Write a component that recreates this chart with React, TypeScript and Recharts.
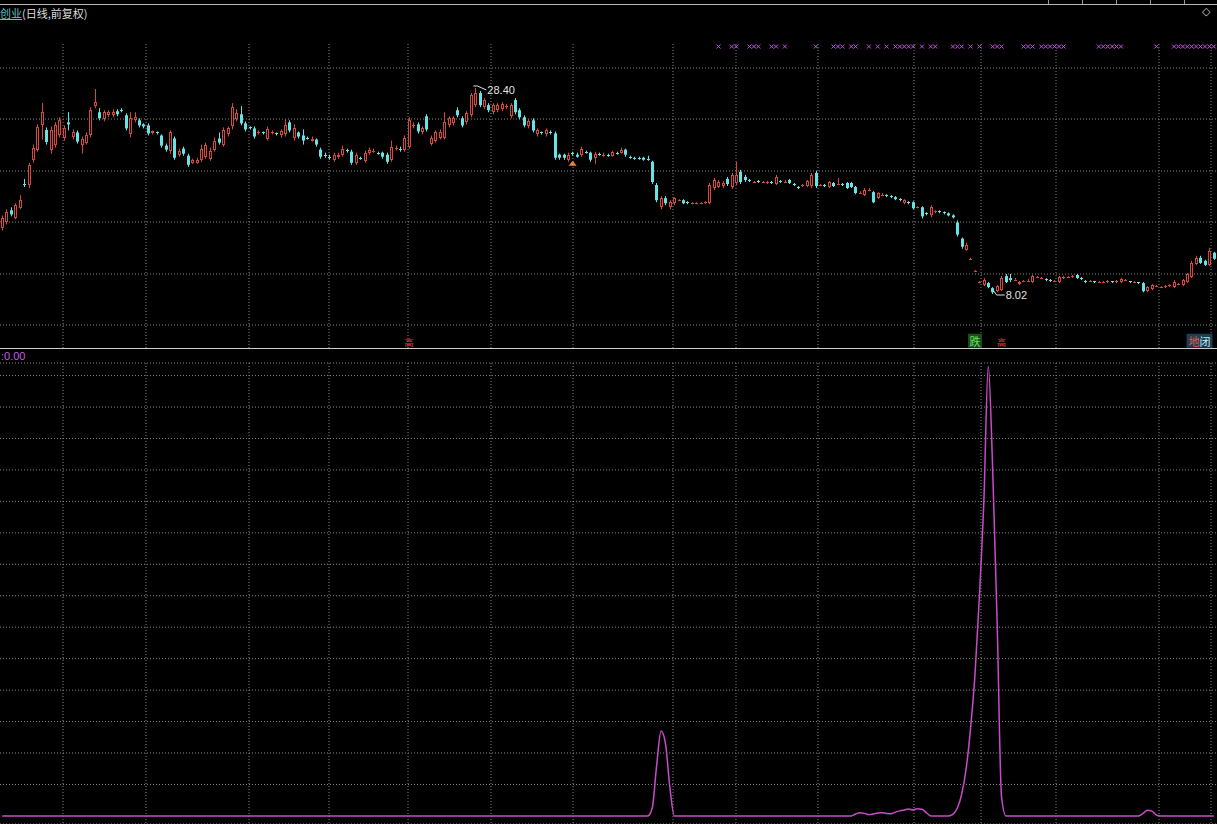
import React from "react";
import {
  Bar,
  CartesianGrid,
  ComposedChart,
  Line,
  Scatter,
  XAxis,
  YAxis,
} from "recharts";

// [open, close, high, low]
type Candle = [number, number, number, number];

const candles: Candle[] = [
  [14.55, 15.54, 15.8, 14.3], [15.14, 16.13, 16.4, 14.9], [16.3, 15.9, 16.6, 15.7], [15.54, 16.83, 17.0, 15.4],
  [16.53, 17.32, 17.8, 16.4], [18.9, 18.8, 19.4, 18.6], [18.8, 20.78, 21.0, 18.5], [21.28, 22.46, 22.8, 21.0],
  [22.27, 24.54, 24.8, 22.1], [24.74, 26.0, 26.9, 23.3], [24.25, 23.06, 24.5, 22.8], [22.3, 24.2, 24.6, 21.9],
  [22.8, 24.7, 25.0, 22.5], [23.75, 25.2, 25.5, 23.5], [23.5, 24.4, 24.7, 23.2], [25.0, 24.8, 26.0, 24.2],
  [23.6, 24.0, 24.3, 23.3], [24.0, 23.1, 24.2, 22.9], [22.8, 23.4, 23.6, 21.9], [23.0, 23.7, 24.0, 22.8],
  [23.7, 26.2, 26.5, 23.5], [26.6, 27.0, 28.3, 26.4], [26.0, 25.4, 26.4, 25.2], [25.3, 26.0, 26.2, 25.1],
  [25.7, 26.0, 26.2, 25.5], [25.7, 26.0, 26.3, 25.5], [26.1, 25.8, 26.3, 25.6], [26.2, 26.1, 26.4, 26.0],
  [25.7, 24.4, 25.9, 24.2], [23.8, 25.4, 26.0, 23.5], [25.2, 25.5, 26.0, 25.0], [25.2, 24.7, 25.4, 24.5],
  [24.8, 24.6, 24.9, 24.4], [24.7, 23.9, 24.9, 23.7], [23.9, 24.1, 24.2, 23.8], [24.0, 23.9, 24.1, 23.8],
  [23.7, 22.7, 23.8, 22.5], [22.7, 22.3, 22.9, 22.1], [22.2, 24.0, 24.2, 21.9], [23.4, 21.5, 23.6, 21.3],
  [21.8, 22.2, 22.4, 21.6], [22.4, 21.9, 22.6, 21.7], [21.7, 20.8, 21.9, 20.6], [21.0, 21.3, 21.4, 20.9],
  [21.0, 21.3, 21.5, 20.9], [21.3, 22.4, 22.8, 21.1], [21.6, 22.8, 23.0, 21.4], [21.4, 22.2, 22.5, 21.2],
  [22.3, 23.2, 23.5, 22.1], [23.4, 23.0, 24.0, 22.8], [22.8, 24.2, 24.5, 22.6], [23.8, 24.4, 24.6, 23.6],
  [24.6, 26.5, 26.9, 24.3], [25.3, 25.9, 26.3, 25.1], [25.8, 24.9, 26.6, 24.7], [24.9, 24.3, 25.1, 24.1],
  [24.5, 24.4, 24.6, 24.3], [24.4, 23.6, 24.6, 23.4], [23.9, 24.0, 24.2, 23.8], [24.0, 23.9, 24.1, 23.8],
  [23.4, 24.3, 24.6, 23.2], [24.0, 24.0, 24.2, 23.8], [23.9, 23.8, 24.0, 23.7], [23.7, 24.1, 24.3, 23.5],
  [23.8, 24.7, 25.3, 23.6], [25.0, 24.2, 25.2, 24.0], [23.5, 24.4, 24.8, 23.2], [24.0, 23.6, 24.1, 23.4],
  [23.7, 23.2, 24.3, 22.8], [23.5, 23.4, 23.6, 23.3], [23.2, 23.4, 23.6, 23.1], [23.3, 22.8, 23.4, 22.6],
  [22.3, 21.6, 22.5, 21.4], [21.8, 21.7, 22.0, 21.5], [21.6, 21.5, 21.8, 21.3], [21.3, 21.8, 22.0, 21.1],
  [21.6, 21.8, 22.0, 21.4], [21.8, 22.4, 22.7, 21.6], [22.3, 22.2, 22.4, 22.0], [22.1, 21.0, 22.3, 20.8],
  [21.0, 21.8, 22.0, 20.8], [21.5, 21.4, 21.6, 21.3], [21.2, 22.0, 22.2, 21.0], [22.0, 22.3, 22.5, 21.8],
  [22.2, 22.2, 22.4, 22.0], [22.0, 21.9, 22.1, 21.8], [22.0, 21.6, 22.1, 21.4], [21.8, 21.1, 22.0, 20.9],
  [21.3, 22.6, 23.2, 21.1], [22.4, 22.5, 22.7, 22.2], [22.4, 22.3, 22.6, 22.1], [22.3, 23.5, 23.7, 22.1],
  [22.6, 25.2, 25.5, 22.4], [24.6, 24.7, 25.0, 24.4], [24.8, 24.1, 25.0, 23.9], [24.0, 24.4, 24.6, 23.8],
  [25.6, 24.3, 25.8, 24.1], [22.9, 23.5, 23.7, 22.7], [23.2, 24.0, 24.2, 23.0], [23.5, 24.0, 24.3, 23.3],
  [23.5, 25.0, 26.0, 23.3], [24.7, 25.4, 25.6, 24.5], [24.9, 25.4, 25.6, 24.7], [26.2, 25.7, 26.5, 25.5],
  [25.4, 24.7, 25.6, 24.5], [25.0, 25.9, 26.1, 24.8], [25.7, 27.7, 27.9, 25.5], [26.7, 27.9, 28.4, 26.5],
  [27.9, 26.7, 28.1, 26.5], [26.5, 27.2, 27.4, 26.3], [26.7, 26.2, 26.9, 26.0], [26.0, 26.7, 26.9, 25.8],
  [26.2, 26.7, 26.9, 26.0], [26.3, 26.8, 27.0, 26.1], [26.5, 26.6, 26.8, 26.3], [25.6, 26.7, 26.9, 25.4],
  [27.2, 26.0, 27.4, 25.8], [26.2, 25.5, 26.4, 25.3], [25.5, 24.7, 25.7, 24.5], [24.6, 25.1, 25.3, 24.4],
  [25.2, 24.2, 25.4, 24.0], [23.8, 24.2, 24.4, 23.6], [24.0, 23.9, 24.1, 23.8], [23.8, 24.2, 24.4, 23.6],
  [24.0, 23.9, 24.2, 23.8], [23.9, 21.5, 24.1, 21.3], [21.8, 21.5, 21.9, 21.3], [21.8, 21.5, 21.9, 21.3],
  [21.3, 21.8, 22.0, 21.1], [22.0, 21.9, 22.1, 21.7], [21.8, 21.6, 22.0, 21.5], [21.8, 22.4, 22.6, 21.6],
  [22.1, 22.0, 22.2, 21.9], [22.0, 21.3, 22.1, 21.1], [21.5, 21.9, 22.1, 20.9], [21.9, 21.8, 22.0, 21.7],
  [21.8, 21.8, 22.0, 21.6], [21.8, 21.7, 21.9, 21.6], [21.7, 22.1, 22.2, 21.6], [22.0, 21.9, 22.1, 21.8],
  [22.0, 22.3, 22.5, 21.9], [22.3, 21.8, 22.4, 21.6], [21.6, 21.5, 21.7, 21.4], [21.5, 21.4, 21.6, 21.3],
  [21.5, 21.4, 21.6, 21.3], [21.5, 21.3, 21.6, 21.2], [21.4, 21.3, 21.7, 21.2], [21.1, 19.1, 21.2, 18.9],
  [18.8, 17.3, 19.0, 17.1], [16.6, 17.5, 17.7, 16.4], [17.5, 17.0, 17.7, 16.8], [16.6, 17.1, 17.3, 16.4],
  [17.0, 17.5, 17.6, 16.8], [17.3, 17.3, 17.4, 17.2], [17.3, 17.0, 17.4, 16.9], [17.1, 17.0, 17.2, 16.9],
  [17.0, 17.0, 17.1, 16.9], [17.0, 17.0, 17.1, 16.9], [17.0, 17.0, 17.1, 16.9], [17.0, 17.1, 17.2, 16.9],
  [17.0, 18.8, 19.0, 16.9], [18.5, 19.3, 19.5, 18.3], [18.6, 19.1, 19.3, 18.5], [18.7, 19.0, 19.2, 18.5],
  [19.4, 18.9, 19.6, 18.7], [18.6, 19.8, 20.0, 18.4], [19.0, 19.8, 21.1, 18.8], [20.1, 19.1, 20.3, 18.9],
  [19.6, 19.3, 19.8, 19.1], [19.3, 19.2, 19.4, 19.1], [19.1, 19.1, 19.2, 19.0], [19.2, 19.1, 19.3, 19.0],
  [19.1, 19.1, 19.2, 19.0], [19.0, 19.1, 19.2, 18.9], [19.1, 19.0, 19.2, 18.9], [18.9, 19.6, 19.8, 18.8],
  [19.2, 19.1, 19.3, 19.0], [19.1, 19.1, 19.3, 19.0], [19.3, 19.0, 19.4, 18.9], [18.9, 18.8, 19.0, 18.7],
  [18.6, 18.5, 18.7, 18.4], [18.7, 18.8, 18.9, 18.6], [18.7, 19.2, 19.3, 18.6], [18.7, 19.8, 20.0, 18.5],
  [20.0, 18.7, 20.2, 18.5], [18.8, 18.8, 18.9, 18.7], [18.8, 18.7, 18.9, 18.6], [18.6, 19.1, 19.2, 18.5],
  [19.0, 18.7, 19.1, 18.6], [18.9, 18.9, 19.5, 18.8], [18.9, 18.8, 19.0, 18.7], [19.0, 18.5, 19.1, 18.4],
  [19.0, 18.6, 19.1, 18.5], [18.6, 18.0, 18.7, 17.9], [18.0, 18.0, 18.2, 17.9], [17.8, 18.3, 18.5, 17.7],
  [18.3, 18.3, 18.5, 18.2], [18.1, 17.1, 18.2, 17.0], [17.5, 18.0, 18.1, 17.4], [17.8, 17.8, 18.0, 17.7],
  [17.8, 17.7, 17.9, 17.6], [17.7, 17.6, 17.8, 17.5], [17.6, 17.4, 17.7, 17.3], [17.4, 17.3, 17.5, 17.2],
  [17.0, 17.3, 17.4, 16.9], [17.1, 17.0, 17.2, 16.9], [17.1, 16.5, 17.2, 16.4], [16.6, 16.6, 16.7, 16.5],
  [16.6, 15.7, 16.7, 15.5], [16.0, 15.9, 16.1, 15.8], [15.8, 16.6, 16.8, 15.6], [16.1, 16.2, 16.3, 16.0],
  [16.2, 16.1, 16.3, 16.0], [16.1, 16.0, 16.2, 15.9], [16.0, 15.8, 16.1, 15.7], [15.8, 15.6, 15.9, 15.5],
  [15.1, 13.9, 15.3, 13.7], [13.5, 12.7, 13.6, 12.5], [12.4, 12.9, 13.1, 12.3], [11.5, 11.5, 11.6, 11.4],
  [10.3, 10.3, 10.4, 10.2], [9.2, 9.2, 9.3, 9.1], [8.9, 9.4, 9.6, 8.8], [9.1, 8.7, 9.2, 8.6],
  [8.6, 8.2, 8.7, 8.02], [8.3, 8.8, 8.9, 8.2], [8.4, 9.6, 9.8, 8.3], [9.8, 9.2, 10.0, 9.1],
  [9.6, 9.4, 10.0, 9.2], [9.4, 9.4, 9.6, 9.3], [9.0, 9.2, 9.3, 8.9], [9.3, 9.3, 9.4, 9.2],
  [9.3, 9.3, 9.5, 9.2], [9.2, 9.8, 9.9, 9.1], [9.7, 9.7, 9.8, 9.6], [9.6, 9.6, 9.7, 9.5],
  [9.5, 9.4, 9.6, 9.3], [9.4, 9.3, 9.5, 9.2], [9.3, 9.3, 9.4, 9.2], [9.2, 9.7, 9.8, 9.1],
  [9.6, 9.7, 9.8, 9.5], [9.7, 9.7, 9.8, 9.6], [9.7, 9.8, 9.9, 9.6], [9.9, 9.6, 10.0, 9.5],
  [9.6, 9.5, 9.7, 9.4], [9.3, 9.2, 9.4, 9.1], [9.3, 9.3, 9.4, 9.2], [9.3, 9.2, 9.3, 9.1],
  [9.2, 9.2, 9.3, 9.1], [9.2, 9.2, 9.3, 9.1], [9.2, 9.3, 9.4, 9.1], [9.3, 9.2, 9.3, 9.1],
  [9.2, 9.3, 9.4, 9.1], [9.2, 9.5, 9.6, 9.1], [9.4, 9.4, 9.5, 9.3], [9.3, 9.2, 9.3, 9.1],
  [9.2, 9.2, 9.3, 9.1], [9.2, 9.1, 9.2, 9.0], [9.1, 8.3, 9.2, 8.2], [8.3, 8.7, 8.8, 8.2],
  [8.5, 8.9, 9.0, 8.4], [8.8, 8.8, 8.9, 8.7], [8.7, 8.7, 8.8, 8.6], [8.7, 8.8, 8.9, 8.6],
  [8.8, 8.9, 9.0, 8.7], [8.7, 9.2, 9.4, 8.6], [9.0, 9.0, 9.1, 8.9], [8.9, 9.4, 9.5, 8.8],
  [9.2, 10.0, 10.1, 9.1], [9.7, 11.1, 11.3, 9.6], [11.0, 11.6, 11.8, 10.9], [11.6, 11.1, 11.8, 11.0],
  [11.3, 10.9, 11.4, 10.8], [10.9, 12.3, 12.6, 10.8], [12.1, 11.5, 12.2, 11.4],
];

// lower panel indicator, one value per candle
const signal: number[] = [
  0, 0, 0, 0, 0, 0, 0, 0, 0, 0, 0, 0, 0, 0, 0, 0, 0, 0, 0, 0, 0,
  0, 0, 0, 0, 0, 0, 0, 0, 0, 0, 0, 0, 0, 0, 0, 0, 0, 0, 0, 0, 0,
  0, 0, 0, 0, 0, 0, 0, 0, 0, 0, 0, 0, 0, 0, 0, 0, 0, 0, 0, 0, 0,
  0, 0, 0, 0, 0, 0, 0, 0, 0, 0, 0, 0, 0, 0, 0, 0, 0, 0, 0, 0, 0,
  0, 0, 0, 0, 0, 0, 0, 0, 0, 0, 0, 0, 0, 0, 0, 0, 0, 0, 0, 0, 0,
  0, 0, 0, 0, 0, 0, 0, 0, 0, 0, 0, 0, 0, 0, 0, 0, 0, 0, 0, 0, 0,
  0, 0, 0, 0, 0, 0, 0, 0, 0, 0, 0, 0, 0, 0, 0, 0, 0, 0, 0, 0, 0,
  2.5, 16, 27, 23, 9,
  0, 0, 0, 0, 0, 0, 0, 0, 0, 0, 0, 0, 0, 0, 0, 0, 0, 0, 0, 0, 0,
  0, 0, 0, 0, 0, 0, 0, 0, 0, 0, 0, 0, 0, 0, 0, 0, 0, 0, 0, 0,
  0.6, 1.0, 0.8, 0.4, 0.6, 0.9, 1.0, 0.8, 0.7, 1.2, 1.6, 1.9, 2.2, 1.9, 2.3, 2.1, 1.0,
  0, 0, 0, 0, 0,
  0.5, 2.5, 7, 15, 28, 45, 70, 100, 143, 110, 62, 6,
  0, 0, 0, 0, 0, 0, 0, 0, 0, 0, 0, 0, 0, 0, 0, 0,
  0, 0, 0, 0, 0, 0, 0, 0, 0, 0, 0, 0, 0, 0, 0,
  0.8, 1.8, 1.5, 0.3,
  0, 0, 0, 0, 0, 0, 0, 0, 0, 0, 0, 0, 0,
];

// candles carrying the small signal cross at the top of the price panel
const crossMarks: number[] = [
  162, 165, 166, 169, 170, 171, 174, 175, 177, 184, 188, 189, 190, 192, 193, 196, 198, 200,
  202, 203, 204, 205, 206, 208, 210, 211, 215, 216, 217, 219, 221, 224, 225, 226, 231, 232,
  233, 235, 236, 237, 238, 239, 240, 248, 249, 250, 251, 252, 253, 261, 265, 266, 267, 268,
  269, 270, 271, 272, 273, 274,
];

const eventTags: { i: number; text: string; kind: "up" | "down" | "note" }[] = [
  { i: 92, text: "高", kind: "up" },
  { i: 220, text: "跌", kind: "down" },
  { i: 226, text: "高", kind: "up" },
  { i: 271, text: "地闭", kind: "note" },
];

const buyPoints: number[] = [129];

// month separators (px) and price grid rows (px)
const gridX = [63, 146, 249, 329, 408, 491, 573, 673, 736, 818, 914, 981, 1056, 1159, 1211];
const gridYTop = [68, 119, 171, 222, 274, 325];
const signalTicks = [10, 20, 30, 40, 50, 60, 70, 80, 90, 100, 110, 120, 130, 140];

const WIDTH = 1217;
const N = candles.length;
const X_DOMAIN: [number, number] = [-0.5, N - 0.5];
const PRICE_DOMAIN: [number, number] = [2.68, 32.75];
const SIGNAL_DOMAIN: [number, number] = [-2.575, 144];
const MARK_LEVEL = 32.5;
const TAG_LEVEL = 3.3;

const RED = "#d6483e";
const CYAN = "#68e2e2";
const GRID = "#858585";
const MAGENTA = "#c84cc8";

const rows = candles.map(([o, c, h, l], i) => ({ i, o, c, h, l, range: [l, h] }));
const signalRows = signal.map((v, i) => ({ i, v }));
const markRows = crossMarks.map((i) => ({ i, y: MARK_LEVEL }));
const tagRows = eventTags.map((t) => ({ ...t, y: TAG_LEVEL }));
const buyRows = buyPoints.map((i) => ({ i, y: candles[i][3] }));

let hiIdx = 0;
let loIdx = 0;
candles.forEach((k, i) => {
  if (k[2] > candles[hiIdx][2]) hiIdx = i;
  if (k[3] < candles[loIdx][3]) loIdx = i;
});
const extremeRows = [
  { i: hiIdx, y: candles[hiIdx][2], kind: "max" },
  { i: loIdx, y: candles[loIdx][3], kind: "min" },
];

function CandleShape(props: any) {
  const { x, y, width, height, payload } = props;
  if (x == null || y == null || !payload) return null;
  const { o, c, h, l } = payload;
  const top = Math.min(y, y + height);
  const span = Math.abs(height);
  const range = h - l || 1;
  const py = (v: number) => top + ((h - v) / range) * span;
  const cx = Math.floor(x + width / 2);
  const wx = cx + 0.5;
  const up = c >= o;
  const color = up ? RED : CYAN;
  const yh = py(h);
  const yl = py(l);
  const bTop = py(Math.max(o, c));
  const bBot = py(Math.min(o, c));

  if (bBot - bTop < 1.5) {
    const yy = Math.round(bTop) + 0.5;
    return (
      <g>
        <line x1={wx} x2={wx} y1={yh} y2={yl} stroke={color} />
        <line x1={cx - 1} x2={cx + 2} y1={yy} y2={yy} stroke={color} />
      </g>
    );
  }
  if (up) {
    const t = Math.round(bTop) + 0.5;
    const b = Math.round(bBot) - 0.5;
    return (
      <g>
        <line x1={wx} x2={wx} y1={yh} y2={t} stroke={color} />
        <line x1={wx} x2={wx} y1={b} y2={yl} stroke={color} />
        <rect x={cx - 0.5} y={t} width={2} height={Math.max(b - t, 1)} fill="#000" stroke={color} />
      </g>
    );
  }
  return (
    <g>
      <line x1={wx} x2={wx} y1={yh} y2={yl} stroke={color} />
      <rect x={cx - 1} y={bTop} width={3} height={bBot - bTop} fill={color} />
    </g>
  );
}

function CrossShape(props: any) {
  const { cx, cy } = props;
  if (cx == null || cy == null) return null;
  return (
    <g stroke="#c452e6" strokeWidth={1}>
      <line x1={cx - 2} y1={cy - 2} x2={cx + 2} y2={cy + 2} />
      <line x1={cx - 2} y1={cy + 2} x2={cx + 2} y2={cy - 2} />
    </g>
  );
}

function TagShape(props: any) {
  const { cx, cy, payload } = props;
  if (cx == null || cy == null) return null;
  const font = { fontSize: 11, fontFamily: "'Noto Sans CJK SC', sans-serif" };
  if (payload.kind === "note") {
    return (
      <g>
        <rect x={cx - 14} y={cy - 8} width={26} height={14} fill="#1d3f52" />
        <text x={cx - 1} y={cy + 4} textAnchor="middle" {...font}>
          <tspan fill="#e85a4a">{payload.text.slice(0, 1)}</tspan>
          <tspan fill="#bfe8f0">{payload.text.slice(1)}</tspan>
        </text>
      </g>
    );
  }
  if (payload.kind === "down") {
    return (
      <g>
        <rect x={cx - 7} y={cy - 8} width={14} height={14} fill="#1f4a1f" />
        <text x={cx} y={cy + 4} textAnchor="middle" fill="#5ee05e" {...font}>
          {payload.text}
        </text>
      </g>
    );
  }
  return (
    <text x={cx} y={cy + 4} textAnchor="middle" fill="#e23a3a" fontSize={9} fontFamily="'Noto Sans CJK SC', sans-serif">
      {payload.text}
    </text>
  );
}

function BuyShape(props: any) {
  const { cx, cy } = props;
  if (cx == null || cy == null) return null;
  const t = cy + 5;
  return <path d={`M${cx} ${t} L${cx + 4} ${t + 5} L${cx - 4} ${t + 5} Z`} fill="#f08038" />;
}

function ExtremeShape(props: any) {
  const { cx, cy, payload } = props;
  if (cx == null || cy == null) return null;
  const label = payload.y.toFixed(2);
  const font = { fontSize: 11, fontFamily: "'Liberation Sans', Arial, sans-serif", fill: "#e2e2e2" };
  if (payload.kind === "max") {
    return (
      <g>
        <path d={`M${cx - 2} ${cy - 2} L${cx + 2} ${cy - 2} L${cx + 11} ${cy + 2}`} stroke="#e2e2e2" fill="none" />
        <text x={cx + 12} y={cy + 6} {...font}>{label}</text>
      </g>
    );
  }
  return (
    <g>
      <path d={`M${cx + 1} ${cy - 3} L${cx + 4} ${cy + 1} L${cx + 12} ${cy + 1}`} stroke="#e2e2e2" fill="none" />
      <text x={cx + 13} y={cy + 5} {...font}>{label}</text>
    </g>
  );
}

export default function App() {
  return (
    <div
      style={{
        position: "absolute",
        left: 0,
        top: 0,
        width: WIDTH,
        height: 824,
        background: "#000",
        overflow: "hidden",
      }}
    >
      <div style={{ position: "absolute", left: 0, top: 0 }}>
        <ComposedChart width={WIDTH} height={348} data={rows} margin={{ top: 44, right: 1, bottom: 0, left: 0 }}>
          <CartesianGrid
            stroke={GRID}
            strokeDasharray="1 2"
            horizontalPoints={gridYTop}
            verticalPoints={gridX}
          />
          <XAxis dataKey="i" type="number" domain={X_DOMAIN} hide />
          <YAxis domain={PRICE_DOMAIN} hide />
          <Bar dataKey="range" barSize={3} shape={<CandleShape />} isAnimationActive={false} />
          <Scatter data={markRows} dataKey="y" shape={<CrossShape />} isAnimationActive={false} />
          <Scatter data={tagRows} dataKey="y" shape={<TagShape />} isAnimationActive={false} />
          <Scatter data={buyRows} dataKey="y" shape={<BuyShape />} isAnimationActive={false} />
          <Scatter data={extremeRows} dataKey="y" shape={<ExtremeShape />} isAnimationActive={false} />
        </ComposedChart>
      </div>

      <div style={{ position: "absolute", left: 0, top: 348 }}>
        <ComposedChart width={WIDTH} height={476} data={signalRows} margin={{ top: 15, right: 1, bottom: 0, left: 0 }}>
          <CartesianGrid stroke={GRID} strokeDasharray="1 2" verticalPoints={gridX} />
          <XAxis dataKey="i" type="number" domain={X_DOMAIN} hide />
          <YAxis domain={SIGNAL_DOMAIN} ticks={signalTicks} hide />
          <Line
            type="monotone"
            dataKey="v"
            stroke={MAGENTA}
            strokeWidth={1.5}
            dot={false}
            isAnimationActive={false}
          />
        </ComposedChart>
      </div>

      {/* frame lines */}
      <div style={{ position: "absolute", left: 0, top: 4, width: WIDTH, height: 1, background: "#b8b8b8" }} />
      <div style={{ position: "absolute", left: 0, top: 348, width: WIDTH, height: 1, background: "#cfcfcf" }} />
      {[1048, 1082, 1116, 1150, 1184].map((x) => (
        <div key={x} style={{ position: "absolute", left: x, top: 0, width: 1, height: 4, background: "#9a9a9a" }} />
      ))}
      <div
        style={{
          position: "absolute",
          left: 1202,
          top: 5,
          fontSize: 11,
          color: "#d0d0d0",
          fontFamily: "'DejaVu Sans', sans-serif",
        }}
      >
        ◇
      </div>

      {/* title */}
      <div
        style={{
          position: "absolute",
          left: 0,
          top: 6,
          fontSize: 11,
          lineHeight: "15px",
          whiteSpace: "nowrap",
          fontFamily: "'Noto Sans CJK SC', sans-serif",
          color: "#dcdcdc",
        }}
      >
        <span style={{ color: "#5fc4c4", textDecoration: "underline" }}>创业</span>
        (日线,前复权)
      </div>

      {/* indicator value */}
      <div
        style={{
          position: "absolute",
          left: 1,
          top: 349,
          fontSize: 11,
          lineHeight: "14px",
          fontFamily: "'Liberation Sans', Arial, sans-serif",
          color: "#c45ee0",
          whiteSpace: "nowrap",
        }}
      >
        :0.00
      </div>
    </div>
  );
}
